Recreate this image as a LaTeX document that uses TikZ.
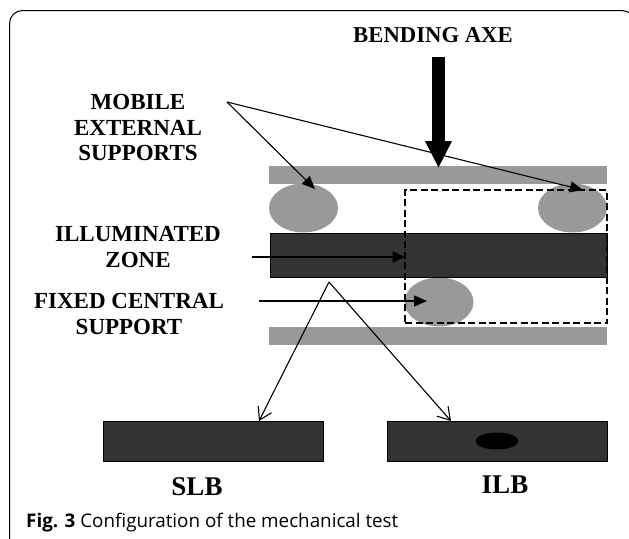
\documentclass[tikz,border=0pt]{standalone}
\usepackage{fontspec}
\usepackage{xcolor}
\usetikzlibrary{arrows.meta,shapes.geometric}
\setmainfont{Liberation Serif}
\newfontfamily\captionfont{Open Sans}
\definecolor{plategray}{HTML}{999999}
\definecolor{bardark}{HTML}{333333}

\begin{document}
\begin{tikzpicture}[x=1pt,y=-1pt,
    platenode/.style={rectangle, fill=plategray, inner sep=0pt, minimum width=338pt, minimum height=18pt},
    supportnode/.style={ellipse, fill=plategray, inner sep=0pt, minimum width=69pt, minimum height=49pt},
    barnode/.style={rectangle, draw=black, fill=bardark, inner sep=0pt, line width=.8pt},
    labelnode/.style={align=center, inner sep=0pt, font=\bfseries\fontsize{23}{25.8}\selectfont},
    bignode/.style={inner sep=0pt, font=\bfseries\fontsize{27}{30}\selectfont},
    pointer/.style={-{Triangle[length=13pt,width=11pt]}, line width=1.1pt, black},
    openpointer/.style={-{Straight Barb[length=12pt,width=15pt]}, line width=1.1pt, black}]
            \useasboundingbox (0,0) rectangle (629,538);
            % frame
            \draw[line width=1pt, rounded corners=13pt] (9.5,560) -- (9.5,10.5) -- (635,10.5) -- (635,40);

            \node[platenode] (topplate) at (438,175) {};
            \node[platenode] (botplate) at (438,335.5) {};
            \node[supportnode] (left) at (303.5,208) {};
            \node[supportnode] (right) at (572.5,208) {};
            \node[supportnode] (central) at (439,302) {};
            \node[barnode, minimum width=337pt, minimum height=44pt] (bar) at (438.5,255) {};
            \node[barnode, minimum width=220pt, minimum height=40pt] (slbbar) at (213,441) {};
            \node[barnode, minimum width=220pt, minimum height=40pt] (ilbbar) at (497,441) {};
            \node[ellipse, fill=black, inner sep=0pt, minimum width=43pt, minimum height=17pt] (defect) at (497,441) {};

            % dashed zone
            \node[rectangle, draw=black, line width=1.2pt, dash pattern=on 7pt off 3.5pt, minimum width=202pt, minimum height=133pt, inner sep=0pt] (zone) at (506,256.5) {};

            % labels
            \node[labelnode, font=\bfseries\fontsize{22.7}{24}\selectfont] (axe) at (433,35) {BENDING AXE};
            \node[labelnode] (mobile) at (138,127.5) {MOBILE\\EXTERNAL\\SUPPORTS};
            \node[labelnode] (illum) at (138,247) {ILLUMINATED\\ZONE};
            \node[labelnode] (fixed) at (129,314) {FIXED CENTRAL\\SUPPORT};
            \node[bignode] (slb) at (197,487) {SLB};
            \node[bignode] (ilb) at (505,485) {ILB};
            \node[anchor=base west, inner sep=0pt, font=\captionfont\fontsize{18.8}{22}\selectfont] (cap) at (26,527) {\textbf{Fig. 3} Configuration of the mechanical test};

            \coordinate (apexA) at (227,102);
            \coordinate (tipL) at (315,189);
            \coordinate (tipR) at (583,190);
            \coordinate (startI) at (252,257);
            \coordinate (tipI) at (405.5,257);
            \coordinate (startF) at (259,301);
            \coordinate (tipF) at (427,301);
            \coordinate (apexB) at (329,282);
            \coordinate (tipS) at (259,421);
            \coordinate (tipB) at (451,421);
            \coordinate (axetop) at (438.5,57);
            \coordinate (axetip) at (438.5,168);

            \draw[-{Triangle[length=27pt,width=25pt]}, line width=13pt, black] (axetop) -- (axetip);
            \draw[pointer] (apexA) -- (tipL);
            \draw[pointer] (apexA) -- (tipR);
            \draw[pointer] (startI) -- (tipI);
            \draw[pointer] (startF) -- (tipF);
            \draw[openpointer] (apexB) -- (tipS);
            \draw[openpointer] (apexB) -- (tipB);

        \end{tikzpicture}
\end{document}
